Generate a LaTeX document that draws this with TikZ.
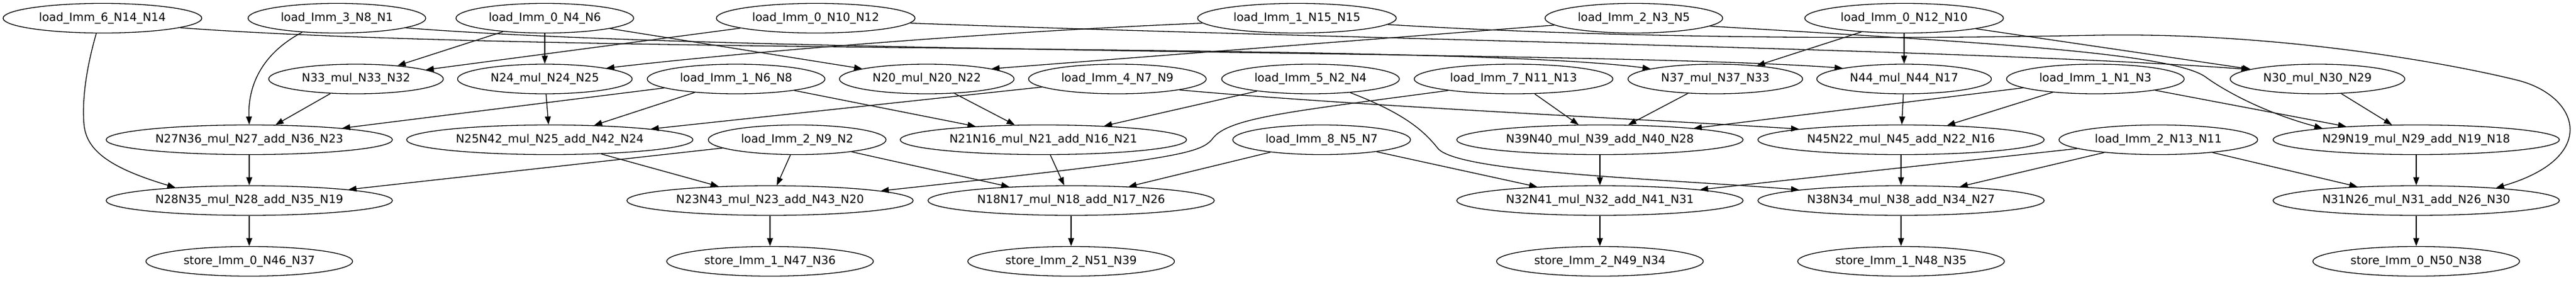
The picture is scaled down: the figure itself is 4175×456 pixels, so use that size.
\documentclass[tikz,border=0pt]{standalone}
\usepackage{fontspec}
\setmainfont{DejaVu Sans}
\usetikzlibrary{shapes.geometric,arrows.meta}
\begin{document}
\begin{tikzpicture}[x=1pt,y=1pt,
  nd/.style={ellipse,draw,line width=1.3pt,inner sep=0pt,minimum height=48pt,font=\fontsize{18.6}{22}\selectfont},
  ldl/.style={nd,minimum width=322pt},
  lds/.style={nd,minimum width=288pt},
  mulnd/.style={nd,minimum width=283pt},
  madnd/.style={nd,minimum width=464pt},
  stond/.style={nd,minimum width=335pt},
  conn/.style={line width=1.3pt,-{Triangle[length=13pt,width=9.5pt]}}]
\useasboundingbox (0,0) rectangle (4175,-456);
% row 1
\node[ldl] (a6) at (166,-29.5) {load\_Imm\_6\_N14\_N14};
\node[lds] (a3) at (546,-29.5) {load\_Imm\_3\_N8\_N1};
\node[lds] (v0) at (883,-29.5) {load\_Imm\_0\_N4\_N6};
\node[ldl] (m0) at (1322,-29.5) {load\_Imm\_0\_N10\_N12};
\node[ldl] (m1) at (2102,-29.5) {load\_Imm\_1\_N15\_N15};
\node[lds] (m2) at (2648,-29.5) {load\_Imm\_2\_N3\_N5};
\node[ldl] (u0) at (3086,-29.5) {load\_Imm\_0\_N12\_N10};
% row 2
\node[mulnd] (n33) at (577,-128) {N33\_mul\_N33\_N32};
\node[mulnd] (n24) at (883,-128) {N24\_mul\_N24\_N25};
\node[lds] (v1) at (1193,-128) {load\_Imm\_1\_N6\_N8};
\node[mulnd] (n20) at (1502,-128) {N20\_mul\_N20\_N22};
\node[lds] (a4) at (1811,-128) {load\_Imm\_4\_N7\_N9};
\node[lds] (a5) at (2124,-128) {load\_Imm\_5\_N2\_N4};
\node[ldl] (a7) at (2453,-128) {load\_Imm\_7\_N11\_N13};
\node[mulnd] (n37) at (2780,-128) {N37\_mul\_N37\_N33};
\node[mulnd] (n44) at (3086,-128) {N44\_mul\_N44\_N17};
\node[lds] (u1) at (3396,-128) {load\_Imm\_1\_N1\_N3};
\node[mulnd] (n30) at (3756,-128) {N30\_mul\_N30\_N29};
% row 3
\node[madnd] (n27) at (404,-226.5) {N27N36\_mul\_N27\_add\_N36\_N23};
\node[madnd] (n25) at (891,-226.5) {N25N42\_mul\_N25\_add\_N42\_N24};
\node[lds] (v2) at (1292,-226.5) {load\_Imm\_2\_N9\_N2};
\node[madnd] (n21) at (1691,-226.5) {N21N16\_mul\_N21\_add\_N16\_N21};
\node[lds] (a8) at (2142,-226.5) {load\_Imm\_8\_N5\_N7};
\node[madnd] (n39) at (2593,-226.5) {N39N40\_mul\_N39\_add\_N40\_N28};
\node[madnd] (n45) at (3081,-226.5) {N45N22\_mul\_N45\_add\_N22\_N16};
\node[ldl] (u2) at (3498,-226.5) {load\_Imm\_2\_N13\_N11};
\node[madnd] (n29) at (3916,-226.5) {N29N19\_mul\_N29\_add\_N19\_N18};
% row 4
\node[madnd] (n28) at (404,-325) {N28N35\_mul\_N28\_add\_N35\_N19};
\node[madnd] (n23) at (1248,-325) {N23N43\_mul\_N23\_add\_N43\_N20};
\node[madnd] (n18) at (1736,-325) {N18N17\_mul\_N18\_add\_N17\_N26};
\node[madnd] (n32) at (2593,-325) {N32N41\_mul\_N32\_add\_N41\_N31};
\node[madnd] (n38) at (3081,-325) {N38N34\_mul\_N38\_add\_N34\_N27};
\node[madnd] (n31) at (3916,-325) {N31N26\_mul\_N31\_add\_N26\_N30};
% row 5
\node[stond] (s0) at (404,-423.5) {store\_Imm\_0\_N46\_N37};
\node[stond] (s1) at (1248,-423.5) {store\_Imm\_1\_N47\_N36};
\node[stond] (s2) at (1736,-423.5) {store\_Imm\_2\_N51\_N39};
\node[stond] (s3) at (2593,-423.5) {store\_Imm\_2\_N49\_N34};
\node[stond] (s4) at (3081,-423.5) {store\_Imm\_1\_N48\_N35};
\node[stond] (s5) at (3916,-423.5) {store\_Imm\_0\_N50\_N38};
% straight edges
\draw[conn] (v0) -- (n33);
\draw[conn] (v0) -- (n24);
\draw[conn] (v0) -- (n20);
\draw[conn] (m0) -- (n33);
\draw[conn] (m2.185) -- (n20.9.6);
\draw[conn] (u0) -- (n37);
\draw[conn] (u0) -- (n44);
\draw[conn] (u0) -- (n30);
\draw[conn] (n33) -- (n27);
\draw[conn] (v1) -- (n27);
\draw[conn] (n24) -- (n25);
\draw[conn] (v1) -- (n25);
\draw[conn] (a4) -- (n25);
\draw[conn] (v1) -- (n21);
\draw[conn] (n20) -- (n21);
\draw[conn] (a5) -- (n21);
\draw[conn] (a7) -- (n39);
\draw[conn] (n37) -- (n39);
\draw[conn] (u1) -- (n39);
\draw[conn] (n44) -- (n45);
\draw[conn] (u1) -- (n45);
\draw[conn] (u1) -- (n29);
\draw[conn] (n30) -- (n29);
\draw[conn] (n27) -- (n28);
\draw[conn] (v2) -- (n28);
\draw[conn] (n25) -- (n23);
\draw[conn] (v2) -- (n23);
\draw[conn] (v2) -- (n18);
\draw[conn] (n21) -- (n18);
\draw[conn] (a8) -- (n18);
\draw[conn] (n39) -- (n32);
\draw[conn] (a8) -- (n32);
\draw[conn] (u2) -- (n32);
\draw[conn] (n45) -- (n38);
\draw[conn] (u2) -- (n38);
\draw[conn] (u2) -- (n31);
\draw[conn] (n29) -- (n31);
\draw[conn] (n28) -- (s0);
\draw[conn] (n23) -- (s1);
\draw[conn] (n18) -- (s2);
\draw[conn] (n32) -- (s3);
\draw[conn] (n38) -- (s4);
\draw[conn] (n31) -- (s5);
% curved edges
\draw[conn] (a6.-112) .. controls (140,-110) and (133,-160) .. (136,-200) .. controls (139,-240) and (170,-270) .. (n28.170);
\draw[conn] (a3.-158) .. controls (415,-92) and (402,-150) .. (n27.north);
\draw[conn] (a6.-7.5) .. controls (900,-90) and (2350,-68) .. (n37.171);
\draw[conn] (a3.-8.5) .. controls (1200,-88) and (2600,-82) .. (n44.170);
\draw[conn] (m0.-3) .. controls (2200,-64) and (3200,-80) .. (n30.172);
\draw[conn] (m1.183) .. controls (1600,-52) and (1200,-85) .. (n24.10);
\draw[conn] (m1.-4.4) .. controls (2550,-58) and (2950,-66) .. (3400,-57) .. controls (3700,-52) and (3980,-105) .. (4080,-130) .. controls (4180,-155) and (4215,-255) .. (n31.9);
\draw[conn] (m2.-6.5) .. controls (3200,-68) and (3520,-85) .. (3575,-125) .. controls (3595,-140) and (3660,-180) .. (n29.173.4);
\draw[conn] (a7.-170.7) .. controls (2100,-180) and (1990,-190) .. (1965,-225) .. controls (1945,-250) and (1900,-258) .. (n23.5.7);
\draw[conn] (a5.-19) .. controls (2280,-185) and (2310,-215) .. (2330,-240) .. controls (2360,-280) and (2700,-290) .. (n38.174.4);
\draw[conn] (a4.-10.6) .. controls (2200,-172) and (2700,-195) .. (n45.174.3);
\end{tikzpicture}
\end{document}
